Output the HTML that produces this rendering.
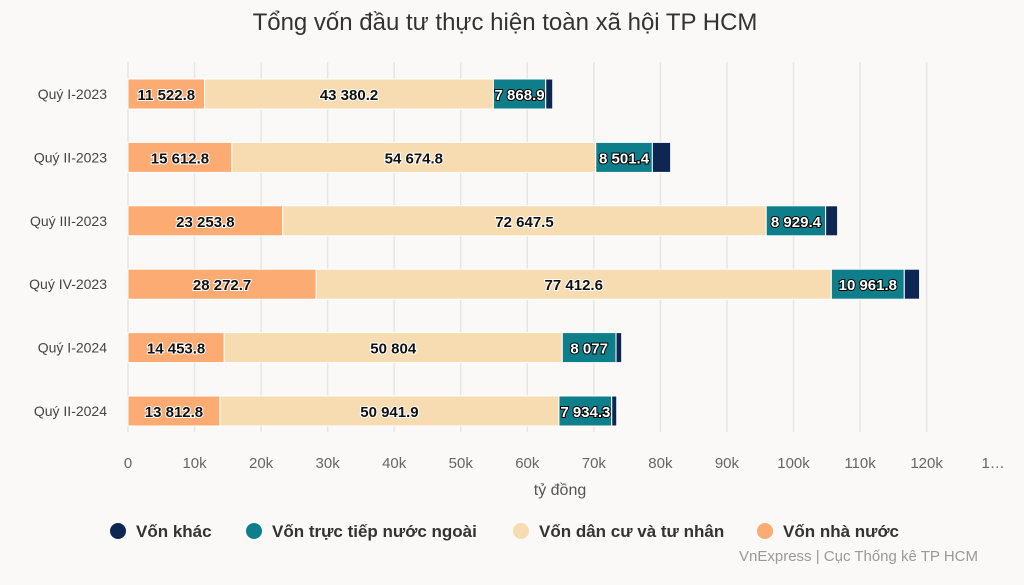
<!DOCTYPE html>
<html><head><meta charset="utf-8"><style>
body{margin:0;background:#faf9f7;font-family:"Liberation Sans","Noto Sans CJK SC",sans-serif;}
svg{display:block}
</style></head><body>
<svg id="c" width="1024" height="585">
<text x="505" y="30" text-anchor="middle" font-size="24" fill="#333">Tổng vốn đầu tư thực hiện toàn xã hội TP HCM</text>
<g id="grid"></g><g id="bars"></g><g id="labels"></g>
<text x="560" y="495" text-anchor="middle" font-size="16" fill="#555">tỷ đồng</text>
<g id="legend"></g>
<text x="978" y="561" text-anchor="end" font-size="15" fill="#999">VnExpress | Cục Thống kê TP HCM</text>
</svg>
<script>
const categories=["Quý I-2023","Quý II-2023","Quý III-2023","Quý IV-2023","Quý I-2024","Quý II-2024"];
const nhaNuoc=[11522.8,15612.8,23253.8,28272.7,14453.8,13812.8];
const danCu=[43380.2,54674.8,72647.5,77412.6,50804,50941.9];
const fdi=[7868.9,8501.4,8929.4,10961.8,8077,7934.3];
const khac=[1050,2750,1800,2300,850,750];
const ticks=[0,10000,20000,30000,40000,50000,60000,70000,80000,90000,100000,110000,120000,130000];
const tickLabels=["0","10k","20k","30k","40k","50k","60k","70k","80k","90k","100k","110k","120k","1…"];
const NS="http://www.w3.org/2000/svg";
const x=v=>128+v*0.006655;
const yC=i=>94+i*63.4;
function mk(t,a,p){const e=document.createElementNS(NS,t);for(const k in a)e.setAttribute(k,a[k]);p.appendChild(e);return e;}
const grid=document.getElementById('grid'),bars=document.getElementById('bars'),labels=document.getElementById('labels'),leg=document.getElementById('legend');
ticks.forEach((t,i)=>{
 if(i<ticks.length-1){const l=mk('line',{x1:x(t),x2:x(t),y1:62,y2:432,stroke:'#e6e6e6','stroke-width':1.5},grid);
 
 }
 const tx=mk('text',{x:x(t),y:468,'text-anchor':'middle','font-size':15,fill:'#666'},grid);tx.textContent=tickLabels[i];
 
 
});
const series=[[nhaNuoc,'#fcab72','von-nha-nuoc',0],[danCu,'#f6dcb0','von-dan-cu',0],[fdi,'#0e7e8a','von-fdi',1],[khac,'#0e2752','von-khac',2]];
categories.forEach((c,i)=>{
 const cl=mk('text',{x:107,y:yC(i)+5,'text-anchor':'end','font-size':14,fill:'#444'},labels);cl.textContent=c;
 
 
 let acc=0;
 series.forEach(([arr,col,nm,ty])=>{
  const v=arr[i];const x0=x(acc),x1=x(acc+v);acc+=v;
  const r=mk('rect',{x:x0,y:yC(i)-15,width:x1-x0,height:30,fill:col,stroke:'#fff','stroke-width':1},bars);
  
  
  if(ty<2){
   const s=v.toFixed(1).replace(/\.0$/,'').replace(/\B(?=(\d{3})+(?!\d))/g,' ');
   const t=mk('text',{x:(x0+x1)/2,y:yC(i)+6,'text-anchor':'middle','font-size':15,'font-weight':'bold',fill:ty?'#fff':'#111',stroke:ty?'#000':'#fff','stroke-width':ty?2:2,'paint-order':'stroke'},labels);
   t.textContent=s;
   
   
  }
 });
});
const legItems=[["Vốn khác",'#0e2752',118],["Vốn trực tiếp nước ngoài",'#0e7e8a',254],["Vốn dân cư và tư nhân",'#f6dcb0',521],["Vốn nhà nước",'#fcab72',765]];
legItems.forEach(([n,c,lx])=>{
 const g=mk('g',{},leg);
 
 
 mk('circle',{cx:lx,cy:531,r:8,fill:c},g);
 const t=mk('text',{x:lx+18,y:537,'font-size':17,'font-weight':'bold',fill:'#333'},g);t.textContent=n;
});
</script>
</body></html>
